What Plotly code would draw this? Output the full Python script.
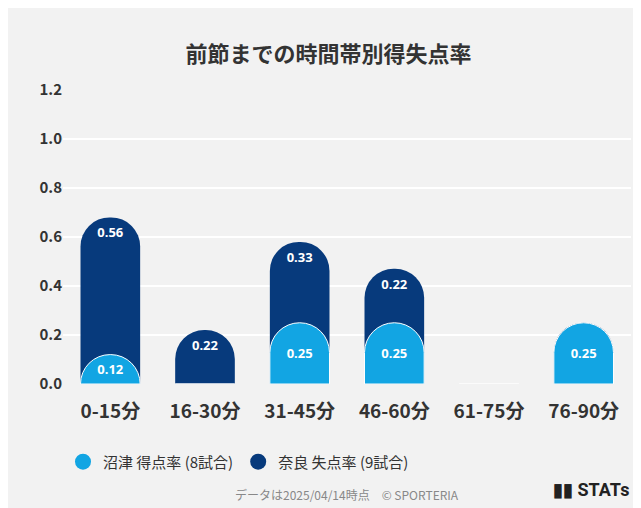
import plotly.graph_objects as go

# data
periods = ["0-15分", "16-30分", "31-45分", "46-60分", "61-75分", "76-90分"]
numazu_scored = [0.12, 0, 0.25, 0.25, 0, 0.25]
nara_conceded = [0.56, 0.22, 0.33, 0.22, 0, 0]

LIGHT = "#12a5e3"
DARK = "#073a7c"

total = [a + b for a, b in zip(numazu_scored, nara_conceded)]

fig = go.Figure()
# dark bar drawn behind, height = both rates stacked
fig.add_trace(go.Bar(
    x=periods, y=total, marker=dict(color=DARK, cornerradius=30, line=dict(width=0)),
    text=[f"<b>{v:.2f}</b>" if v > 0 else "" for v in nara_conceded],
    textposition="inside", insidetextanchor="end",
    textfont=dict(color="white", size=13, family="Noto Sans"),
    showlegend=False, hoverinfo="skip",
))
# light bar on its own overlaid axis so it gets its own rounded top
fig.add_trace(go.Bar(
    x=periods, y=numazu_scored, xaxis="x2",
    marker=dict(color=LIGHT, cornerradius=30, line=dict(width=1, color="white")),
    text=[f"<b>{v:.2f}</b>" if v > 0 else "" for v in numazu_scored],
    textposition="inside", insidetextanchor="middle",
    textfont=dict(color="white", size=13, family="Noto Sans"),
    showlegend=False, hoverinfo="skip",
))
# legend entries with round markers
for name, c in [("沼津 得点率 (8試合)", LIGHT), ("奈良 失点率 (9試合)", DARK)]:
    fig.add_trace(go.Scatter(x=[None], y=[None], mode="markers", name=name,
                             marker=dict(color=c, size=24, symbol="circle")))

fig.update_layout(
    width=641, height=508, bargap=0.37,
    paper_bgcolor="#f2f2f2", plot_bgcolor="#f2f2f2",
    margin=dict(l=55, r=18, t=82, b=132),
    font=dict(family="Noto Sans CJK JP", color="#333333"),
    title=dict(text="<b>前節までの時間帯別得失点率</b>", x=0.5, y=0.925, xanchor="center",
               font=dict(size=22, color="#333333")),
    legend=dict(orientation="h", x=0.0, y=-0.265, xanchor="left", yanchor="middle",
                font=dict(size=15, color="#333333")),
    uniformtext=dict(mode="show", minsize=10),
    xaxis2=dict(overlaying="x", matches="x", visible=False),
)
fig.update_xaxes(showgrid=False, tickfont=dict(size=19, color="#333333"), showline=False,
                 ticklabelstandoff=14,
                 tickvals=periods, ticktext=[f"<b>{p}</b>" for p in periods])
fig.update_yaxes(range=[0, 1.2], dtick=0.2, gridcolor="white", gridwidth=1.5,
                 zeroline=False, tickfont=dict(size=15, color="#333333"),
                 tickvals=[0, 0.2, 0.4, 0.6, 0.8, 1.0, 1.2],
                 ticktext=["<b>0.0</b>", "<b>0.2</b>", "<b>0.4</b>", "<b>0.6</b>", "<b>0.8</b>", "<b>1.0</b>", "<b>1.2</b>"])

fig.add_annotation(text="データは2025/04/14時点　© SPORTERIA", xref="paper", yref="paper",
                   x=0.5, y=-0.41, showarrow=False, font=dict(size=12, color="#888888"))
fig.add_annotation(text="<b>▮▮ STATs</b>", xref="paper", yref="paper", x=1.0, y=-0.40,
                   xanchor="right", showarrow=False, font=dict(size=18, color="#222222", family="Roboto"))

fig.write_html("out.html")
